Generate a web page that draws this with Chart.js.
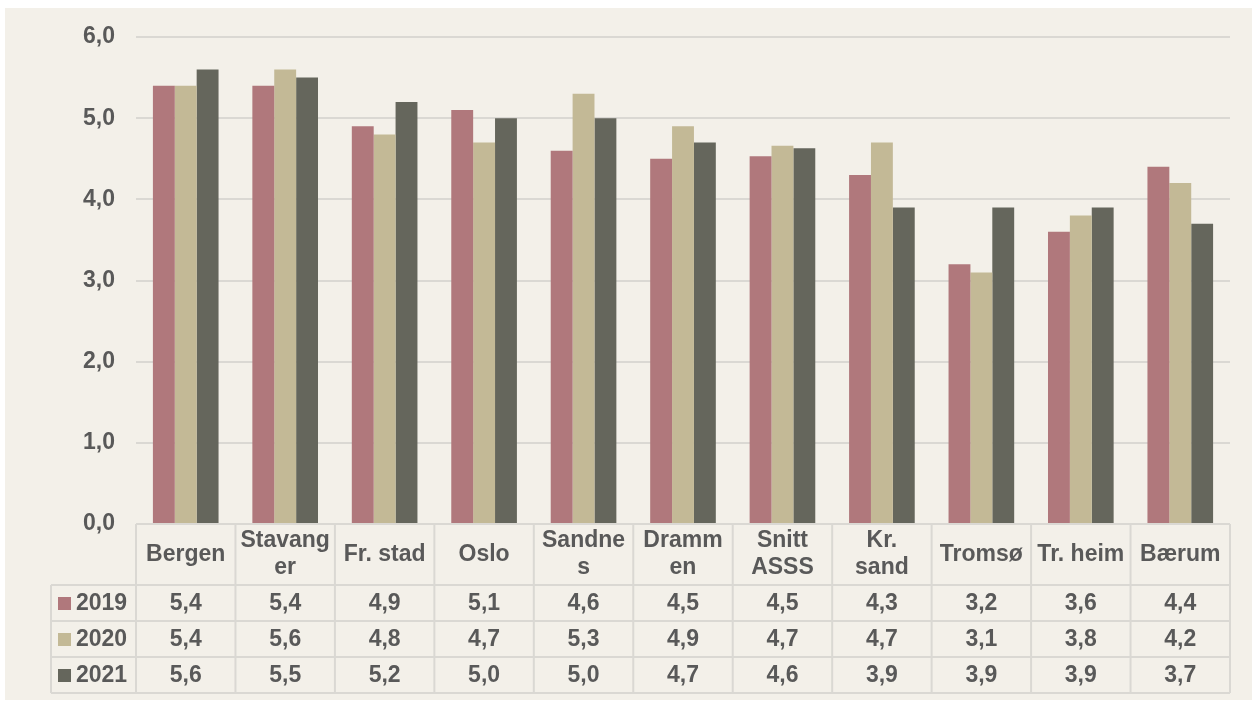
<!DOCTYPE html>
<html>
<head>
<meta charset="utf-8">
<script src="https://cdn.jsdelivr.net/npm/chart.js@4/dist/chart.umd.min.js"></script>
<style>
  body { margin: 0; background: #fff; }
  #wrap { position: absolute; left: 5px; top: 8px; width: 1247px; height: 692px; background: #F3F0E9; }
</style>
</head>
<body>
<div id="wrap"><canvas id="myChart" width="1247" height="692"></canvas></div>
<script>
// data
var categories = ['Bergen', ['Stavang', 'er'], 'Fr. stad', 'Oslo', ['Sandne', 's'], ['Dramm', 'en'], ['Snitt', 'ASSS'], ['Kr.', 'sand'], 'Tromsø', 'Tr. heim', 'Bærum'];
var seriesNames = ['2019', '2020', '2021'];
var values2019 = [5.4, 5.4, 4.9, 5.1, 4.6, 4.5, 4.53, 4.3, 3.2, 3.6, 4.4];
var values2020 = [5.4, 5.6, 4.8, 4.7, 5.3, 4.9, 4.66, 4.7, 3.1, 3.8, 4.2];
var values2021 = [5.6, 5.5, 5.2, 5.0, 5.0, 4.7, 4.63, 3.9, 3.9, 3.9, 3.7];
var yTicks = [0, 1, 2, 3, 4, 5, 6];

var colors = ['#B0787C', '#C3B996', '#65665C'];
var textColor = '#595959';
var lineColor = '#DAD8D3';
var font = 'bold 23px "Liberation Sans", Arial, sans-serif';

function fmt(v) {
  return v.toFixed(1).replace('.', ',');
}

// draws the data table under the plot
var tablePlugin = {
  id: 'dataTable',
  afterDraw: function (chart) {
    var ctx = chart.ctx;
    var x = chart.scales.x;
    var area = chart.chartArea;
    var colW = x.getPixelForValue(1) - x.getPixelForValue(0);
    var top = area.bottom;
    var headH = 61, rowH = 36;
    var tableLeft = 46;
    var bottom = top + headH + rowH * 3;
    var data = chart.data.datasets;

    ctx.save();
    ctx.strokeStyle = lineColor;
    ctx.lineWidth = 2;
    ctx.beginPath();
    // header top
    ctx.moveTo(area.left, top);
    ctx.lineTo(area.right, top);
    // row lines
    for (var r = 0; r <= 3; r++) {
      var yy = top + headH + r * rowH;
      ctx.moveTo(tableLeft, yy);
      ctx.lineTo(area.right, yy);
    }
    // verticals
    ctx.moveTo(tableLeft, top + headH);
    ctx.lineTo(tableLeft, bottom);
    for (var i = 0; i <= categories.length; i++) {
      var xx = area.left + i * colW;
      ctx.moveTo(xx, top);
      ctx.lineTo(xx, bottom);
    }
    ctx.stroke();

    ctx.font = font;
    ctx.fillStyle = textColor;
    ctx.textAlign = 'center';
    ctx.textBaseline = 'middle';
    // header labels
    categories.forEach(function (c, i) {
      var cx = x.getPixelForValue(i);
      var lines = Array.isArray(c) ? c : [c];
      var mid = top + headH / 2;
      lines.forEach(function (l, k) {
        ctx.fillText(l, cx, mid + (k - (lines.length - 1) / 2) * 27);
      });
    });
    // rows
    data.forEach(function (ds, r) {
      var cy = top + headH + r * rowH + rowH / 2 + 1;
      ctx.fillStyle = ds.backgroundColor;
      ctx.fillRect(53, cy - 7, 13, 13);
      ctx.fillStyle = textColor;
      ctx.textAlign = 'left';
      ctx.fillText(ds.label, 71, cy);
      ctx.textAlign = 'center';
      ds.data.forEach(function (v, i) {
        ctx.fillText(fmt(v), x.getPixelForValue(i), cy);
      });
    });
    ctx.restore();
  }
};

var ctx = document.getElementById('myChart').getContext('2d');
var chart = new Chart(ctx, {
  type: 'bar',
  data: {
    labels: categories,
    datasets: [
      { label: seriesNames[0], data: values2019, backgroundColor: colors[0] },
      { label: seriesNames[1], data: values2020, backgroundColor: colors[1] },
      { label: seriesNames[2], data: values2021, backgroundColor: colors[2] }
    ]
  },
  options: {
    responsive: false,
    animation: false,
    layout: { padding: { top: 29, right: 22, bottom: 168, left: 0 } },
    datasets: { bar: { categoryPercentage: 0.66, barPercentage: 1 } },
    plugins: { legend: { display: false }, tooltip: { enabled: false } },
    scales: {
      x: {
        ticks: { display: false },
        grid: { display: false },
        border: { display: false }
      },
      y: {
        min: 0,
        max: 6,
        afterBuildTicks: function (scale) {
          scale.ticks = yTicks.map(function (v) { return { value: v }; });
        },
        afterFit: function (scale) {
          scale.width = 131;
          scale.paddingTop = 0;
          scale.paddingBottom = 0;
        },
        ticks: {
          padding: 21,
          color: textColor,
          font: { family: '"Liberation Sans", Arial, sans-serif', size: 23, weight: 'bold' },
          callback: function (v) { return fmt(v); }
        },
        grid: { color: lineColor, lineWidth: 2, drawTicks: false },
        border: { display: false }
      }
    }
  },
  plugins: [tablePlugin]
});
</script>
</body>
</html>
